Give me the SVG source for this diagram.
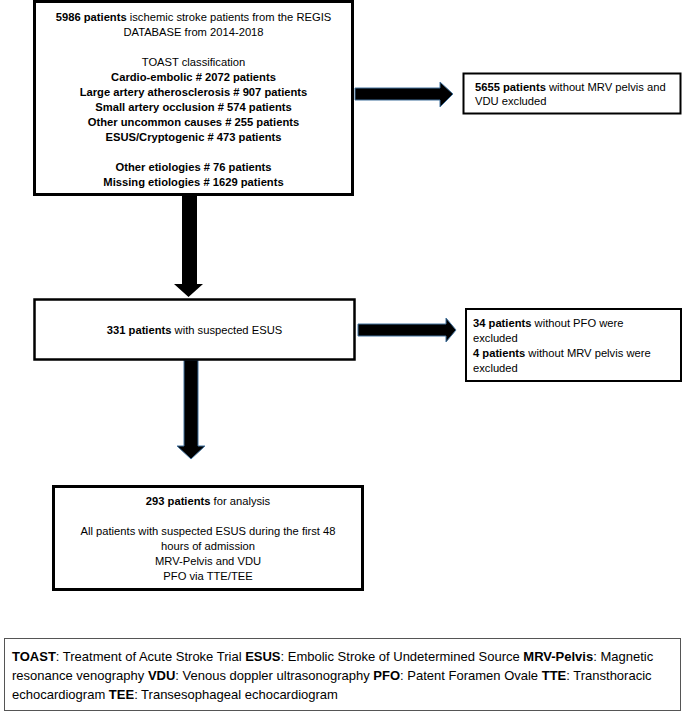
<svg xmlns="http://www.w3.org/2000/svg" width="685" height="713" viewBox="0 0 685 713">
<style>
text{font-family:"Liberation Sans",Arial,sans-serif;font-size:11.2px;fill:#000}
.c{text-anchor:middle}
.b{font-weight:bold}
.box{fill:#fff;stroke:#000}
.arr{fill:#000;stroke:#41719C;stroke-width:1}
.leg{font-size:13px}
</style>
<rect width="685" height="713" fill="#fff"/>
<g id="connectors">
<polygon points="182,196 197,196 197,284 203,284 188.5,297 174,284 182,284" fill="#000"/>
<polygon class="arr" points="184,360 198,360 198,446 205,446 191,459 177,446 184,446"/>
<polygon class="arr" points="355,88 440,88 440,82 453,94 440,107 440,100 355,100"/>
<polygon class="arr" points="358,324 446,324 446,318 456,330 446,342 446,336 358,336"/>
</g>
<g id="n1">
<rect class="box" x="34.5" y="1.5" width="318" height="193" stroke-width="3"/>
<text class="c" x="193.5" y="21"><tspan class="b">5986 patients</tspan> ischemic stroke patients from the REGIS</text>
<text class="c" x="193.5" y="36">DATABASE from 2014-2018</text>
<text class="c" x="193.5" y="66">TOAST classification</text>
<text class="c b" x="193.5" y="81">Cardio-embolic # 2072 patients</text>
<text class="c b" x="193.5" y="96">Large artery atherosclerosis # 907 patients</text>
<text class="c b" x="193.5" y="111">Small artery occlusion # 574 patients</text>
<text class="c b" x="193.5" y="126">Other uncommon causes # 255 patients</text>
<text class="c b" x="193.5" y="141">ESUS/Cryptogenic # 473 patients</text>
<text class="c b" x="193.5" y="171">Other etiologies # 76 patients</text>
<text class="c b" x="193.5" y="186">Missing etiologies # 1629 patients</text>
</g>
<g id="n2">
<rect class="box" x="463.5" y="73.5" width="217" height="40" stroke-width="2"/>
<text x="475" y="91"><tspan class="b">5655 patients</tspan> without MRV pelvis and</text>
<text x="475" y="105">VDU excluded</text>
</g>
<g id="n3">
<rect class="box" x="34.5" y="299.5" width="320" height="60" stroke-width="2.5"/>
<text class="c" x="194.5" y="334"><tspan class="b">331 patients</tspan> with suspected ESUS</text>
</g>
<g id="n4">
<rect class="box" x="466" y="309" width="215" height="72" stroke-width="2"/>
<text x="473" y="327"><tspan class="b">34 patients</tspan> without PFO were</text>
<text x="473" y="342">excluded</text>
<text x="473" y="357"><tspan class="b">4 patients</tspan> without MRV pelvis were</text>
<text x="473" y="372">excluded</text>
</g>
<g id="n5">
<rect class="box" x="53.5" y="486.5" width="309" height="103" stroke-width="3"/>
<text class="c" x="208" y="505"><tspan class="b">293 patients</tspan> for analysis</text>
<text class="c" x="208" y="535">All patients with suspected ESUS during the first 48</text>
<text class="c" x="208" y="550">hours of admission</text>
<text class="c" x="208" y="565">MRV-Pelvis and VDU</text>
<text class="c" x="208" y="580">PFO via TTE/TEE</text>
</g>
<g id="legend">
<rect x="4.5" y="638.5" width="676" height="72" fill="#fff" stroke="#555" stroke-width="1"/>
<text class="leg" x="12" y="661"><tspan class="b">TOAST</tspan>: Treatment of Acute Stroke Trial <tspan class="b">ESUS</tspan>: Embolic Stroke of Undetermined Source <tspan class="b">MRV-Pelvis</tspan>: Magnetic</text>
<text class="leg" x="12" y="680">resonance venography <tspan class="b">VDU</tspan>: Venous doppler ultrasonography <tspan class="b">PFO</tspan>: Patent Foramen Ovale <tspan class="b">TTE</tspan>: Transthoracic</text>
<text class="leg" x="12" y="699">echocardiogram <tspan class="b">TEE</tspan>: Transesophageal echocardiogram</text>
</g>
</svg>
